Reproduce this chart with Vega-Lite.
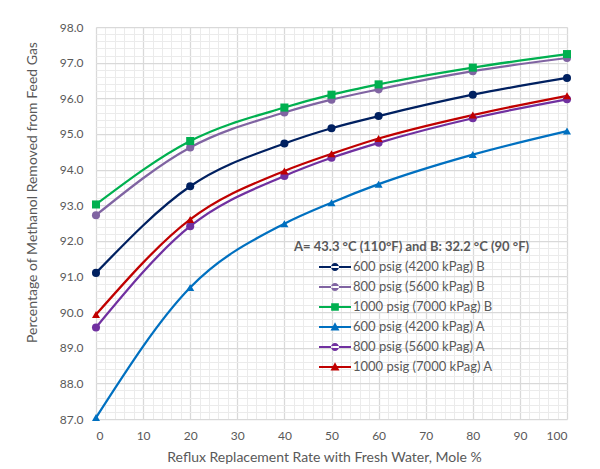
{
  "$schema": "https://vega.github.io/schema/vega-lite/v6.json",
  "width": 471,
  "height": 392,
  "autosize": {"type": "none"},
  "padding": {"left": 96, "top": 27, "right": 33, "bottom": 50},
  "background": "white",
  "config": {
    "font": "Lato",
    "view": {"stroke": null},
    "axis": {"labelFont": "Lato", "titleFont": "Lato", "labelColor": "#595959", "titleColor": "#595959", "titleFontWeight": "normal"}
  },
  "data": {
    "values": [
      {"rate": 0, "pct": 91.10, "series": "600 psig (4200 kPag) B"},
      {"rate": 20, "pct": 93.53, "series": "600 psig (4200 kPag) B"},
      {"rate": 40, "pct": 94.73, "series": "600 psig (4200 kPag) B"},
      {"rate": 50, "pct": 95.16, "series": "600 psig (4200 kPag) B"},
      {"rate": 60, "pct": 95.50, "series": "600 psig (4200 kPag) B"},
      {"rate": 80, "pct": 96.10, "series": "600 psig (4200 kPag) B"},
      {"rate": 100, "pct": 96.57, "series": "600 psig (4200 kPag) B"},
      {"rate": 0, "pct": 92.72, "series": "800 psig (5600 kPag) B"},
      {"rate": 20, "pct": 94.62, "series": "800 psig (5600 kPag) B"},
      {"rate": 40, "pct": 95.60, "series": "800 psig (5600 kPag) B"},
      {"rate": 50, "pct": 95.96, "series": "800 psig (5600 kPag) B"},
      {"rate": 60, "pct": 96.25, "series": "800 psig (5600 kPag) B"},
      {"rate": 80, "pct": 96.76, "series": "800 psig (5600 kPag) B"},
      {"rate": 100, "pct": 97.13, "series": "800 psig (5600 kPag) B"},
      {"rate": 0, "pct": 93.02, "series": "1000 psig (7000 kPag) B"},
      {"rate": 20, "pct": 94.80, "series": "1000 psig (7000 kPag) B"},
      {"rate": 40, "pct": 95.74, "series": "1000 psig (7000 kPag) B"},
      {"rate": 50, "pct": 96.10, "series": "1000 psig (7000 kPag) B"},
      {"rate": 60, "pct": 96.39, "series": "1000 psig (7000 kPag) B"},
      {"rate": 80, "pct": 96.86, "series": "1000 psig (7000 kPag) B"},
      {"rate": 100, "pct": 97.24, "series": "1000 psig (7000 kPag) B"},
      {"rate": 0, "pct": 87.04, "series": "600 psig (4200 kPag) A"},
      {"rate": 20, "pct": 90.69, "series": "600 psig (4200 kPag) A"},
      {"rate": 40, "pct": 92.48, "series": "600 psig (4200 kPag) A"},
      {"rate": 50, "pct": 93.07, "series": "600 psig (4200 kPag) A"},
      {"rate": 60, "pct": 93.59, "series": "600 psig (4200 kPag) A"},
      {"rate": 80, "pct": 94.42, "series": "600 psig (4200 kPag) A"},
      {"rate": 100, "pct": 95.08, "series": "600 psig (4200 kPag) A"},
      {"rate": 0, "pct": 89.57, "series": "800 psig  (5600 kPag) A"},
      {"rate": 20, "pct": 92.41, "series": "800 psig  (5600 kPag) A"},
      {"rate": 40, "pct": 93.82, "series": "800 psig  (5600 kPag) A"},
      {"rate": 50, "pct": 94.33, "series": "800 psig  (5600 kPag) A"},
      {"rate": 60, "pct": 94.75, "series": "800 psig  (5600 kPag) A"},
      {"rate": 80, "pct": 95.44, "series": "800 psig  (5600 kPag) A"},
      {"rate": 100, "pct": 95.97, "series": "800 psig  (5600 kPag) A"},
      {"rate": 0, "pct": 89.93, "series": "1000 psig (7000 kPag) A"},
      {"rate": 20, "pct": 92.60, "series": "1000 psig (7000 kPag) A"},
      {"rate": 40, "pct": 93.96, "series": "1000 psig (7000 kPag) A"},
      {"rate": 50, "pct": 94.44, "series": "1000 psig (7000 kPag) A"},
      {"rate": 60, "pct": 94.87, "series": "1000 psig (7000 kPag) A"},
      {"rate": 80, "pct": 95.53, "series": "1000 psig (7000 kPag) A"},
      {"rate": 100, "pct": 96.07, "series": "1000 psig (7000 kPag) A"}
    ]
  },
  "layer": [
    {
      "mark": {"type": "line", "interpolate": "monotone", "strokeWidth": 2.25},
      "encoding": {
        "x": {"field": "rate", "type": "quantitative",
          "scale": {"domain": [0, 100], "nice": false, "zero": false},
          "axis": {"orient": "top", "tickCount": 50, "grid": true, "gridColor": "#EBEBEB", "gridWidth": 1, "labels": false, "ticks": false, "domain": false, "title": null}},
        "y": {"field": "pct", "type": "quantitative",
          "scale": {"domain": [87, 98], "nice": false, "zero": false},
          "axis": {"orient": "right", "tickCount": 55, "grid": true, "gridColor": "#EBEBEB", "gridWidth": 1, "labels": false, "ticks": false, "domain": false, "title": null}},
        "color": {"field": "series", "type": "nominal", "legend": null,
          "scale": {
            "domain": ["600 psig (4200 kPag) B", "800 psig (5600 kPag) B", "1000 psig (7000 kPag) B", "600 psig (4200 kPag) A", "800 psig  (5600 kPag) A", "1000 psig (7000 kPag) A"],
            "range": ["#002060", "#8064A2", "#00B050", "#0070C0", "#7030A0", "#C00000"]
          }},
        "detail": {"field": "series"}
      }
    },
    {
      "mark": {"type": "point", "filled": true, "opacity": 1, "size": 65},
      "encoding": {
        "x": {"field": "rate", "type": "quantitative",
          "axis": {"orient": "bottom", "values": [0, 10, 20, 30, 40, 50, 60, 70, 80, 90, 100], "grid": true, "gridColor": "#D9D9D9", "gridWidth": 1.25, "ticks": false, "domain": false, "labelFontSize": 12, "labelPadding": 11, "title": "Reflux Replacement Rate with Fresh Water,  Mole %", "titleFontSize": 14, "titleX": 228, "titleY": 38, "titleBaseline": "middle", "titleAnchor": "middle"}},
        "y": {"field": "pct", "type": "quantitative",
          "axis": {"orient": "left", "values": [87, 88, 89, 90, 91, 92, 93, 94, 95, 96, 97, 98], "format": ".1f", "grid": true, "gridColor": "#D9D9D9", "gridWidth": 1.25, "ticks": false, "domain": false, "labelFontSize": 12, "labelPadding": 13, "title": "Percentage of Methanol Removed from Feed Gas", "titleFontSize": 14, "titleX": -64, "titleY": 165, "titleBaseline": "middle", "titleAnchor": "middle"}},
        "color": {"field": "series", "type": "nominal", "legend": null},
        "shape": {"field": "series", "type": "nominal", "legend": null,
          "scale": {
            "domain": ["600 psig (4200 kPag) B", "800 psig (5600 kPag) B", "1000 psig (7000 kPag) B", "600 psig (4200 kPag) A", "800 psig  (5600 kPag) A", "1000 psig (7000 kPag) A"],
            "range": ["circle", "circle", "square", "triangle-up", "circle", "triangle-up"]
          }}
      }
    },
    {
      "mark": {"type": "point", "filled": true, "opacity": 0, "size": 1},
      "encoding": {
        "x": {"field": "rate", "type": "quantitative", "axis": null},
        "y": {"field": "pct", "type": "quantitative", "axis": null},
        "color": {"field": "series", "type": "nominal",
          "legend": {
            "title": "A= 43.3 °C (110°F)  and B: 32.2 °C (90 °F)",
            "orient": "none", "legendX": 198, "legendY": 214,
            "titleFont": "Lato", "titleFontSize": 13, "titleFontWeight": "bold", "titleColor": "#595959", "titleLimit": 400, "titlePadding": 3,
            "labelFont": "Lato", "labelFontSize": 13, "labelColor": "#595959", "labelLimit": 300,
            "symbolSize": 1024, "symbolOffset": 25, "labelOffset": 2, "rowPadding": 0, "clipHeight": 20,
            "symbolOpacity": 1, "symbolStrokeWidth": 0
          }},
        "shape": {"field": "series", "type": "nominal",
          "legend": {
            "title": "A= 43.3 °C (110°F)  and B: 32.2 °C (90 °F)",
            "orient": "none", "legendX": 198, "legendY": 214,
            "symbolSize": 1024, "symbolOffset": 25, "labelOffset": 2, "rowPadding": 0, "clipHeight": 20, "titlePadding": 3,
            "symbolOpacity": 1, "symbolStrokeWidth": 0
          },
          "scale": {
            "domain": ["600 psig (4200 kPag) B", "800 psig (5600 kPag) B", "1000 psig (7000 kPag) B", "600 psig (4200 kPag) A", "800 psig  (5600 kPag) A", "1000 psig (7000 kPag) A"],
            "range": [
              "M-1,-0.07H1V0.07H-1ZM-0.25,0A0.25,0.25,0,1,0,0.25,0A0.25,0.25,0,1,0,-0.25,0Z",
              "M-1,-0.07H1V0.07H-1ZM-0.25,0A0.25,0.25,0,1,0,0.25,0A0.25,0.25,0,1,0,-0.25,0Z",
              "M-1,-0.07H1V0.07H-1ZM-0.24,-0.24H0.24V0.24H-0.24Z",
              "M-1,-0.07H1V0.07H-1ZM0,-0.3L0.28,0.22L-0.28,0.22Z",
              "M-1,-0.07H1V0.07H-1ZM-0.25,0A0.25,0.25,0,1,0,0.25,0A0.25,0.25,0,1,0,-0.25,0Z",
              "M-1,-0.07H1V0.07H-1ZM0,-0.3L0.28,0.22L-0.28,0.22Z"
            ]
          }}
      }
    }
  ],
  "resolve": {
    "axis": {"x": "independent", "y": "independent"},
    "scale": {"shape": "independent"},
    "legend": {"color": "independent", "shape": "independent"}
  }
}
